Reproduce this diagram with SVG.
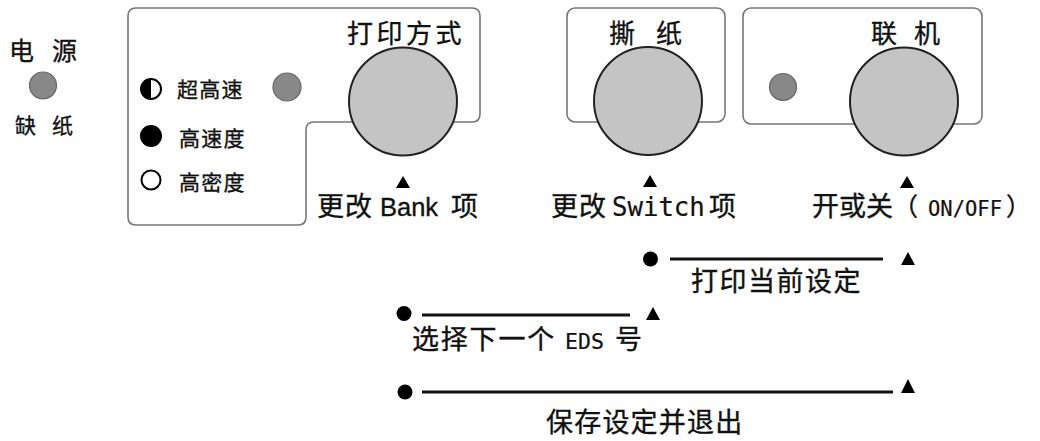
<svg xmlns="http://www.w3.org/2000/svg" width="1040" height="441" viewBox="0 0 1040 441">
<style>
.t{font-family:"Noto Sans CJK SC","Liberation Sans",sans-serif;fill:#111;stroke:#111;stroke-width:0.35;}
.lat{font-family:"Liberation Sans","Noto Sans CJK SC",sans-serif;}
.mono{font-family:"DejaVu Sans Mono","Liberation Mono",monospace;stroke-width:0.2;}
.panel{fill:none;stroke:#777;stroke-width:1.6;}
.knob{fill:#c4c4c4;stroke:#222;stroke-width:2;}
.led{fill:#888;stroke:#666;stroke-width:1.2;}
.tri{fill:#000;}
.dot{fill:#000;}
.bar{stroke:#111;stroke-width:3;fill:none;}
</style>
<rect width="1040" height="441" fill="#fff"/>

<g id="power">
<text class="t" y="60" font-size="25"><tspan x="9">电</tspan> <tspan x="52">源</tspan></text>
<circle class="led" cx="43" cy="85.5" r="13.5"/>
<text class="t" y="133" font-size="21"><tspan x="15">缺</tspan> <tspan x="52">纸</tspan></text>
</g>

<g id="print-mode">
<path class="panel" d="M136,8 H472 Q480,8 480,16 V114 Q480,122 472,122 H314 Q306,122 306,130 V217 Q306,225 298,225 H136 Q128,225 128,217 V16 Q128,8 136,8 Z"/>
<text class="t" x="347" y="43" font-size="26" letter-spacing="3.5">打印方式</text>
<circle class="knob" cx="403" cy="101.5" r="54"/>
<circle class="led" cx="287" cy="87" r="14"/>
<circle cx="151" cy="89" r="10" fill="#fff" stroke="#000" stroke-width="2"/>
<path d="M151,79 A10,10 0 0,0 151,99 Z" fill="#000"/>
<text class="t" x="177" y="97" font-size="21" letter-spacing="1.3">超高速</text>
<circle cx="151" cy="136" r="11" fill="#000"/>
<text class="t" x="179" y="146" font-size="21" letter-spacing="1.3">高速度</text>
<circle cx="151" cy="180" r="9.5" fill="#fff" stroke="#000" stroke-width="2"/>
<text class="t" x="179" y="190" font-size="21" letter-spacing="1.3">高密度</text>
<polygon class="tri" points="396,188 410,188 403,176"/>
<text class="t" y="216" font-size="27"><tspan x="317" letter-spacing="1">更改</tspan> <tspan class="lat" x="380" font-size="25.5">Bank</tspan> <tspan x="451">项</tspan></text>
</g>

<g id="tear-off">
<rect class="panel" x="567" y="8" width="158" height="114" rx="8"/>
<text class="t" y="43" font-size="26"><tspan x="609">撕</tspan> <tspan x="656">纸</tspan></text>
<circle class="knob" cx="648" cy="101" r="54"/>
<polygon class="tri" points="643,187 657,187 650,175"/>
<text class="t" y="216" font-size="27"><tspan x="551" letter-spacing="1">更改</tspan> <tspan class="mono" x="612" font-size="25.7">Switch</tspan> <tspan x="709">项</tspan></text>
</g>

<g id="online">
<rect class="panel" x="743" y="8" width="239" height="116" rx="8"/>
<text class="t" y="43" font-size="26"><tspan x="871">联</tspan> <tspan x="914">机</tspan></text>
<circle class="led" cx="783" cy="87" r="13.5"/>
<circle class="knob" cx="904" cy="101.5" r="54"/>
<polygon class="tri" points="900,188 914,188 907,176"/>
<text class="t" y="216" font-size="27"><tspan x="812">开或关</tspan><tspan x="893" font-size="25">（</tspan><tspan class="mono" x="928" font-size="20.5">ON/OFF</tspan><tspan x="1006" font-size="25">）</tspan></text>
</g>

<g id="connectors">
<circle class="dot" cx="650.5" cy="259" r="7.5"/>
<line class="bar" x1="670" y1="259" x2="883" y2="259"/>
<polygon class="tri" points="901,265 915,265 908,252"/>

<circle class="dot" cx="404" cy="313.5" r="7.5"/>
<line class="bar" x1="422" y1="315" x2="630" y2="315"/>
<polygon class="tri" points="646,320 660,320 653,307"/>

<circle class="dot" cx="405" cy="392" r="7.5"/>
<line class="bar" x1="422" y1="392" x2="893" y2="392"/>
<polygon class="tri" points="901,393 915,393 908,379"/>
</g>

<g id="label-print-current">
<text class="t" x="691" y="291" font-size="27" letter-spacing="1.5">打印当前设定</text>
</g>
<g id="label-next-eds">
<text class="t" y="349" font-size="27"><tspan x="412" letter-spacing="1.8">选择下一个</tspan> <tspan class="mono" x="565" font-size="21.5">EDS</tspan> <tspan x="615">号</tspan></text>
</g>
<g id="label-save-exit">
<text class="t" x="546" y="432" font-size="27" letter-spacing="1.2">保存设定并退出</text>
</g>
</svg>
